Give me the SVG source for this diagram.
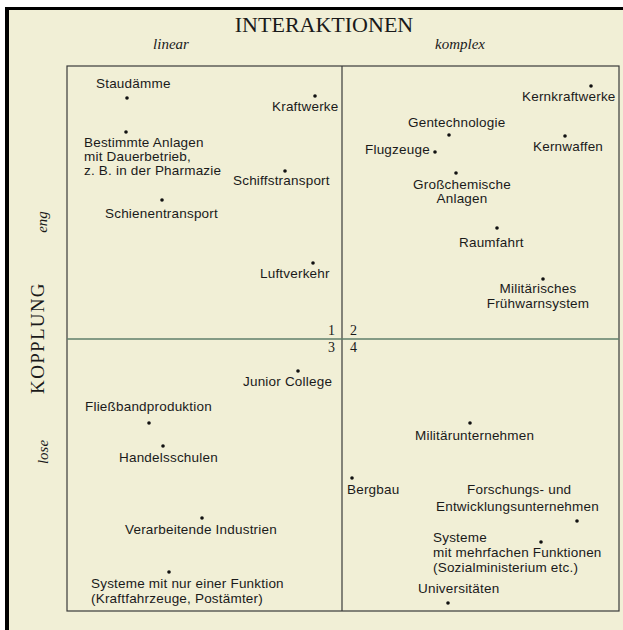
<svg xmlns="http://www.w3.org/2000/svg" width="623" height="630" viewBox="0 0 623 630">
<style>
.t{font-family:"Liberation Sans",Arial,sans-serif;font-size:13.5px;letter-spacing:0.2px;fill:#1a1a1a}
.m{text-anchor:middle}
.s{font-family:"Liberation Serif","Times New Roman",serif;fill:#1a1a1a}
.i{font-style:italic;font-size:15px}
.d{fill:#111}
.ln{stroke:#3a3a3a;stroke-width:1.2;fill:none}
</style>
<rect x="0" y="0" width="623" height="630" fill="#ffffff"/>
<rect x="9" y="10" width="614" height="620" fill="#f1efd6"/>
<rect x="5" y="7" width="618" height="3" fill="#000"/>
<rect x="5" y="7" width="4" height="623" fill="#000"/>

<g id="headers">
<text class="s" x="324" y="32" font-size="22" text-anchor="middle">INTERAKTIONEN</text>
<text class="s i" x="171" y="49" text-anchor="middle">linear</text>
<text class="s i" x="460" y="49" text-anchor="middle">komplex</text>
<text class="s" transform="translate(44,338) rotate(-90)" font-size="19" letter-spacing="1.3" text-anchor="middle">KOPPLUNG</text>
<text class="s i" transform="translate(47,222) rotate(-90)" text-anchor="middle">eng</text>
<text class="s i" transform="translate(48,452) rotate(-90)" text-anchor="middle">lose</text>
</g>

<g id="connectors">
<rect class="ln" x="67" y="66" width="552" height="545"/>
<line class="ln" x1="342" y1="66" x2="342" y2="611"/>
<line x1="67" y1="339" x2="619" y2="339" stroke="#5f7f6a" stroke-width="1.3"/>
</g>

<g id="quadrants" class="s" font-size="14">
<text x="328" y="335">1</text><text x="350" y="335">2</text>
<text x="328" y="352">3</text><text x="350" y="352">4</text>
</g>

<g id="staudaemme"><circle class="d" cx="127" cy="98" r="1.8"/><text class="t" x="96" y="88">Staudämme</text></g>
<g id="kraftwerke"><circle class="d" cx="315" cy="96" r="1.8"/><text class="t" x="272" y="111">Kraftwerke</text></g>
<g id="kernkraftwerke"><circle class="d" cx="591" cy="86" r="1.8"/><text class="t" x="522" y="101">Kernkraftwerke</text></g>
<g id="dauerbetrieb"><circle class="d" cx="126" cy="132" r="1.8"/><text class="t" x="84" y="147">Bestimmte Anlagen</text><text class="t" x="84" y="161">mit Dauerbetrieb,</text><text class="t" x="84" y="175">z. B. in der Pharmazie</text></g>
<g id="schiffstransport"><circle class="d" cx="285" cy="171" r="1.8"/><text class="t" x="233" y="185">Schiffstransport</text></g>
<g id="schienentransport"><circle class="d" cx="162" cy="200" r="1.8"/><text class="t" x="105" y="218">Schienentransport</text></g>
<g id="luftverkehr"><circle class="d" cx="313" cy="263" r="1.8"/><text class="t" x="260" y="278">Luftverkehr</text></g>
<g id="gentechnologie"><circle class="d" cx="449" cy="135" r="1.8"/><text class="t" x="408" y="127">Gentechnologie</text></g>
<g id="flugzeuge"><circle class="d" cx="435" cy="152" r="1.8"/><text class="t" x="365" y="154">Flugzeuge</text></g>
<g id="kernwaffen"><circle class="d" cx="565" cy="136" r="1.8"/><text class="t" x="533" y="151">Kernwaffen</text></g>
<g id="grosschemie"><circle class="d" cx="456" cy="173" r="1.8"/><text class="t m" x="462" y="189">Großchemische</text><text class="t m" x="462" y="203">Anlagen</text></g>
<g id="raumfahrt"><circle class="d" cx="497" cy="228" r="1.8"/><text class="t" x="459" y="247">Raumfahrt</text></g>
<g id="fruehwarnsystem"><circle class="d" cx="543" cy="279" r="1.8"/><text class="t m" x="538" y="293">Militärisches</text><text class="t m" x="538" y="308">Frühwarnsystem</text></g>
<g id="juniorcollege"><circle class="d" cx="298" cy="371" r="1.8"/><text class="t" x="243" y="386">Junior College</text></g>
<g id="fliessband"><circle class="d" cx="149" cy="423" r="1.8"/><text class="t" x="85" y="411">Fließbandproduktion</text></g>
<g id="handelsschulen"><circle class="d" cx="163" cy="446" r="1.8"/><text class="t" x="119" y="462">Handelsschulen</text></g>
<g id="militaerunternehmen"><circle class="d" cx="470" cy="423" r="1.8"/><text class="t" x="415" y="440">Militärunternehmen</text></g>
<g id="bergbau"><circle class="d" cx="352" cy="478" r="1.8"/><text class="t" x="347" y="494">Bergbau</text></g>
<g id="forschung"><circle class="d" cx="577" cy="521" r="1.8"/><text class="t" x="467" y="494">Forschungs- und</text><text class="t" x="436" y="511">Entwicklungsunternehmen</text></g>
<g id="verarbeitende"><circle class="d" cx="202" cy="518" r="1.8"/><text class="t" x="125" y="534">Verarbeitende Industrien</text></g>
<g id="mehrfachfunktion"><circle class="d" cx="541" cy="542" r="1.8"/><text class="t" x="433" y="542">Systeme</text><text class="t" x="433" y="557">mit mehrfachen Funktionen</text><text class="t" x="433" y="572">(Sozialministerium etc.)</text></g>
<g id="universitaeten"><circle class="d" cx="448" cy="603" r="1.8"/><text class="t" x="418" y="593">Universitäten</text></g>
<g id="einfunktion"><circle class="d" cx="169" cy="572" r="1.8"/><text class="t" x="91" y="588">Systeme mit nur einer Funktion</text><text class="t" x="91" y="603">(Kraftfahrzeuge, Postämter)</text></g>
</svg>
